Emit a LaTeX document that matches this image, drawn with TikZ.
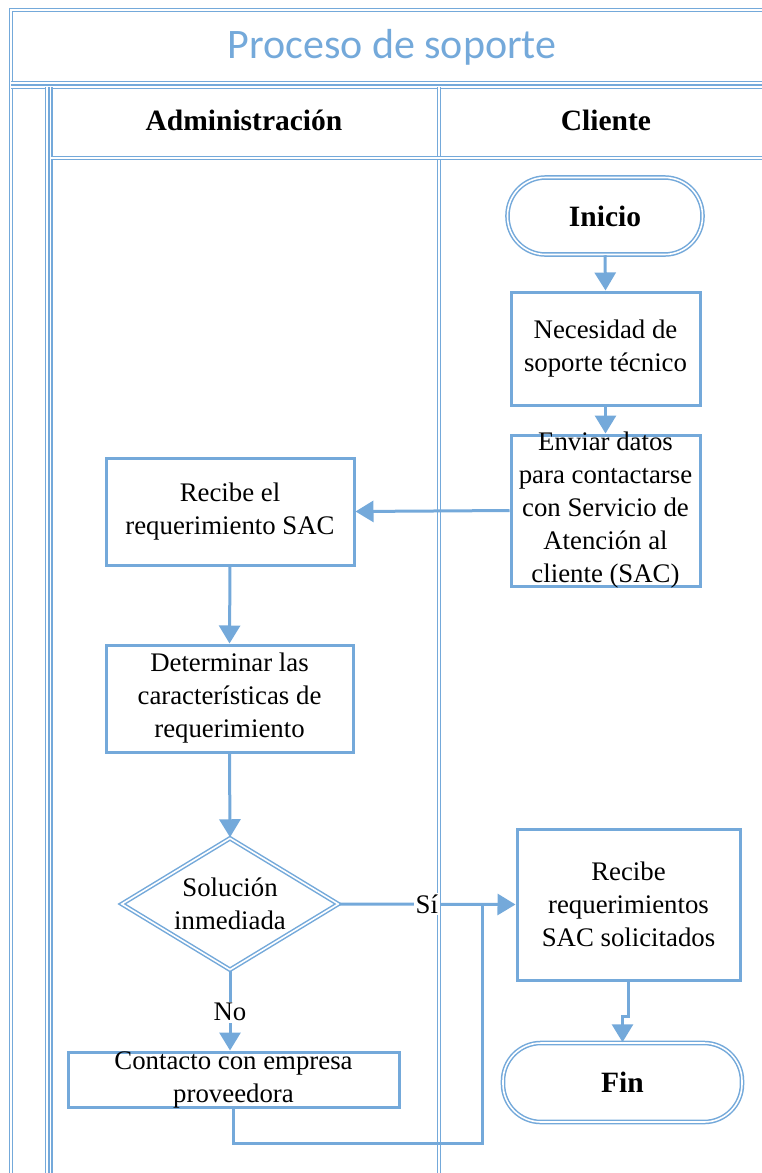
\documentclass[tikz,border=0pt]{standalone}
\usepackage{fontspec}
\setmainfont{Liberation Serif}
\newfontfamily\titlefont{Carlito}
\usetikzlibrary{arrows.meta,shapes.geometric}
\definecolor{lane}{RGB}{116,169,218}

\tikzset{
  frame/.style={draw=lane, double=white, line width=1.5pt, double distance=1.6pt},
  procbox/.style={draw=lane, line width=3pt, rectangle, inner sep=0pt},
  termbox/.style={frame, rectangle, rounded corners=38pt, inner sep=0pt},
  decbox/.style={frame, diamond, inner sep=0pt},
  txt/.style={font=\fontsize{26.8}{33}\selectfont, align=center, inner sep=0pt, text=black},
  hdr/.style={font=\fontsize{29.5}{33}\selectfont\bfseries, inner sep=0pt},
  flow/.style={draw=lane, line width=3pt, -{Triangle[length=18pt,width=21pt]}},
  link/.style={draw=lane, line width=3pt},
  tag/.style={font=\fontsize{26.8}{33}\selectfont, fill=white, inner sep=1.5pt},
}

\begin{document}
\begin{tikzpicture}[x=1pt, y=-1pt]
\useasboundingbox (0,0) rectangle (762,1173);
\clip (0,0) rectangle (762,1173);

% pool, title band and lanes
\draw[frame] (11,10) rectangle (800,1200);
\draw[frame] (11,83) -- (800,83);
\draw[frame] (11,87) -- (800,87);
\draw[frame] (47,87) -- (47,1200);
\draw[frame] (50.5,87) -- (50.5,1200);
\draw[frame] (439,87) -- (439,1200);
\draw[frame] (50.5,158) -- (800,158);
\node[font=\titlefont\fontsize{42}{46}\selectfont, text=lane, inner sep=0pt] (title) at (392,47) {Proceso de soporte};
\node[hdr] (hadm) at (244,120) {Administración};
\node[hdr] (hcli) at (606,120) {Cliente};

% flow elements
\node[termbox, minimum width=195pt, minimum height=77pt,
      label={[hdr]center:Inicio}] (ini) at (605,216) {};
\node[procbox, minimum width=189pt, minimum height=113pt,
      label={[txt]center:{Necesidad de\\soporte técnico}}] (nec) at (605.5,348.5) {};
\node[procbox, minimum width=189pt, minimum height=151pt,
      label={[txt]center:{Enviar datos\\para contactarse\\con Servicio de\\Atención al\\cliente (SAC)}}] (env) at (605.5,510.5) {};
\node[procbox, minimum width=248pt, minimum height=107pt,
      label={[txt]center:{Recibe el\\requerimiento SAC}}] (rec) at (230,511.5) {};
\node[procbox, minimum width=247pt, minimum height=107pt,
      label={[txt]center:{Determinar las\\características de\\requerimiento}}] (det) at (229.5,698.5) {};
\node[decbox, minimum width=217pt, minimum height=132pt,
      label={[txt]center:{Solución\\inmediada}}] (dia) at (230,904) {};
\node[procbox, minimum width=331pt, minimum height=55pt,
      label={[txt]center:{Contacto con empresa\\proveedora}}] (con) at (233.5,1079.5) {};
\node[procbox, minimum width=223pt, minimum height=151pt,
      label={[txt]center:{Recibe\\requerimientos\\SAC solicitados}}] (rr) at (628.5,904.5) {};
\node[termbox, minimum width=239pt, minimum height=79pt,
      label={[hdr]center:Fin}] (fin) at (622.5,1082.5) {};
\coordinate (jn) at (482,904);

% connectors
\draw[flow] (ini.south) -- (nec.north);
\draw[flow] (nec.south) -- (env.north);
\draw[flow] (env.west) -- (rec.east);
\draw[flow] (rec.south) -- (det.north);
\draw[flow] (det.south) -- (dia.north);
\draw[flow] (dia.east) -- (rr.west) node[tag, pos=0.497] (si) {Sí};
\draw[flow] (dia.south) -- (dia.south |- con.north) node[tag, pos=0.52] (no) {No};
\draw[link] (con.south) -- ++(0,35) -| (jn);
\draw[flow] (rr.south) -- ++(0,35) -| (fin.north);
\end{tikzpicture}
\end{document}
